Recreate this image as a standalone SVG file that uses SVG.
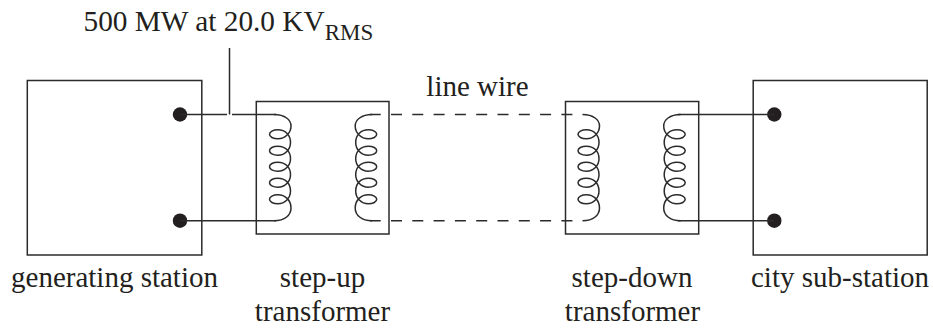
<svg xmlns="http://www.w3.org/2000/svg" width="933" height="329" viewBox="0 0 933 329">
<style>
.s{fill:none;stroke:#2b2b2b;stroke-width:1.5}
.d{fill:#231f20}
.t{font-family:"Liberation Serif","Times New Roman",serif;font-size:29px;fill:#231f20;text-anchor:middle}
</style>
<defs>
<path id="coil" class="s" d="M274 114.5C285 114.5 291 120 291 126C291 133 285 138.8 278 138.8C273 138.8 269.5 136.8 269.5 134.3C269.5 131.8 273 129.8 278 129.8C285 129.8 290.5 135 290.5 142.5C290.5 149.5 285 155.2 278 155.2C273 155.2 269.5 153.2 269.5 150.7C269.5 148.2 273 146.2 278 146.2C285 146.2 290.5 151 290.5 158.7C290.5 165.5 285 171.2 278 171.2C273 171.2 269.5 169.2 269.5 166.7C269.5 164.2 273 162.2 278 162.2C285 162.2 290.5 167 290.5 174.7C290.5 181.5 285 187.2 278 187.2C273 187.2 269.5 185.2 269.5 182.7C269.5 180.2 273 178.2 278 178.2C285 178.2 290.5 183 290.5 191C290.5 198 285 203.8 278 203.8C273 203.8 269.5 201.8 269.5 199.3C269.5 196.8 273 194.8 278 194.8C285 194.8 291 200 291 208C291 215 285 220.7 274 220.7"/>
</defs>
<g id="generating-station"><rect class="s" x="27.3" y="80.5" width="174.5" height="174.5"/><circle class="d" cx="180" cy="114.5" r="7.2"/><circle class="d" cx="180" cy="220.7" r="7.2"/>
<text class="t" x="114.5" y="287">generating station</text></g>
<g id="step-up-transformer"><rect class="s" x="256.3" y="101.5" width="132.7" height="132.5"/><use href="#coil"/><use href="#coil" transform="matrix(-1 0 0 1 646.2 0)"/>
<text class="t" x="322.5" y="287">step-up</text><text class="t" x="322.5" y="321">transformer</text></g>
<g id="step-down-transformer"><rect class="s" x="565.5" y="101.5" width="133.2" height="132.5"/><use href="#coil" transform="translate(308.5 0)"/><use href="#coil" transform="matrix(-1 0 0 1 954.7 0)"/>
<text class="t" x="632" y="287">step-down</text><text class="t" x="632.5" y="321">transformer</text></g>
<g id="city-sub-station"><rect class="s" x="753.2" y="80.5" width="174" height="174.5"/><circle class="d" cx="774.3" cy="114.5" r="7.2"/><circle class="d" cx="774.3" cy="220.7" r="7.2"/>
<text class="t" x="840" y="287">city sub-station</text></g>
<g id="connectors">
<path class="s" d="M180 114.5H227M232 114.5H276M180 220.7H276M229.5 48V114.5"/>
<path class="s" d="M678 114.5H774M678 220.7H774"/>
<path class="s" d="M370 114.5H380.7M370 220.7H380.7"/>
<path class="s" stroke-dasharray="11 10.3" d="M391 114.5H573M391 220.7H573"/>
</g>
<g id="labels">
<text x="83.5" y="31" style="font-family:'Liberation Serif',serif;font-size:29.3px;fill:#231f20">500 MW at 20.0 KV<tspan dy="9" style="font-size:23px">RMS</tspan></text>
<text class="t" x="477.5" y="96">line wire</text>
</g>
</svg>
